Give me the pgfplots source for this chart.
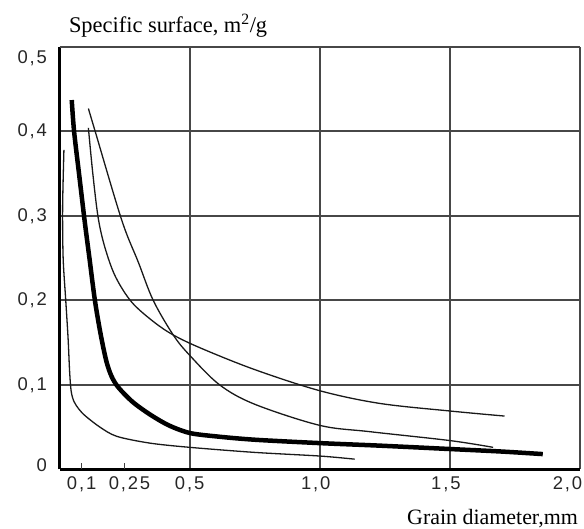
\documentclass[border=0pt]{standalone}
\usepackage{fontspec}
\setmainfont{Liberation Serif}
\newfontfamily\ticksfont[LetterSpace=10]{Liberation Sans}
\usepackage{pgfplots}
\pgfplotsset{compat=1.18}
\begin{document}
\begin{tikzpicture}
\begin{axis}[scale only axis, width=520.5bp, height=422.5bp,
  at={(0,0)}, anchor=south west,
  xmin=0, xmax=2, ymin=0, ymax=0.5,
  axis lines=left, axis line style={-, line width=2.6bp, black},
  xtick={0.5,1,1.5,2},
  xticklabels={{0,5},{\hspace*{-8bp}1,0},{\hspace*{-8bp}1,5},{\hspace*{-25bp}2,0}},
  ytick={0,0.1,0.2,0.3,0.4},
  yticklabels={\raisebox{8bp}{0},{0,1},{0,2},{0,3},{0,4}},
  extra y ticks={0.5}, extra y tick labels={0{,}5},
  extra y tick style={yticklabel style={yshift=-11bp}},
  grid=major, major grid style={line width=2bp, black!72},
  major tick length=0pt,
  extra x ticks={0.085,0.25}, extra x tick labels={{0,1},{\hspace*{10bp}0,25}},
  extra x tick style={grid=none, major tick length=6bp, tick align=inside,
    tick style={line width=1.3bp, black!75}},
  ticklabel style={font=\ticksfont\fontsize{18.5}{18.5}\selectfont, black!85},
  xticklabel style={yshift=-4bp},
  yticklabel style={xshift=-9bp},
  /pgf/number format/assume math mode=true,
]
% thin curve, far left
\addplot[line width=1.3bp, black!90, smooth, tension=0.5] coordinates {
 (0.017,0.378) (0.012,0.31) (0.014,0.25) (0.024,0.20)
 (0.033,0.155) (0.039,0.115) (0.045,0.092) (0.056,0.080)
 (0.075,0.071) (0.10,0.063) (0.155,0.050) (0.22,0.039) (0.347,0.031)
 (0.5,0.026) (0.75,0.020) (1.0,0.0157) (1.134,0.012)};
% thick curve
\addplot[line width=4.5bp, black, smooth, tension=0.5] coordinates {
 (0.047,0.437) (0.056,0.40) (0.075,0.35) (0.097,0.293) (0.115,0.25)
 (0.136,0.20) (0.158,0.16) (0.18,0.128) (0.20,0.110) (0.226,0.097)
 (0.28,0.080) (0.347,0.065) (0.42,0.052) (0.5,0.043) (0.6,0.039)
 (0.75,0.035) (1.0,0.031) (1.23,0.028) (1.5,0.024)
 (1.7,0.021) (1.857,0.018)};
% thin curve starting at 0.40, ends high
\addplot[line width=1.3bp, black!90, smooth, tension=0.55] coordinates {
 (0.111,0.404) (0.128,0.35) (0.149,0.297) (0.175,0.262) (0.215,0.228)
 (0.277,0.198) (0.36,0.175) (0.437,0.159) (0.546,0.143) (0.75,0.118)
 (1.0,0.093) (1.23,0.078) (1.5,0.069) (1.71,0.063)};
% thin curve starting at 0.43, ends low
\addplot[line width=1.3bp, black!90, smooth, tension=0.55] coordinates {
 (0.111,0.427) (0.137,0.40) (0.239,0.295) (0.303,0.245)
 (0.36,0.20) (0.437,0.159) (0.5,0.135) (0.615,0.100)
 (0.75,0.077) (1.0,0.052) (1.193,0.0445) (1.5,0.034) (1.666,0.026)};
\end{axis}
\node[anchor=base west, font=\fontsize{22.5}{22.5}\selectfont] at (6bp,437bp)
  {Specific surface, m\textsuperscript{2}/g};
\node[anchor=base east, font=\fontsize{22}{22}\selectfont] at (522bp,-54.7bp)
  {Grain diameter,mm};
\pgfresetboundingbox
\useasboundingbox (-59.5bp,-59.7bp) rectangle (524.5bp,469.3bp);
\end{tikzpicture}
\end{document}
